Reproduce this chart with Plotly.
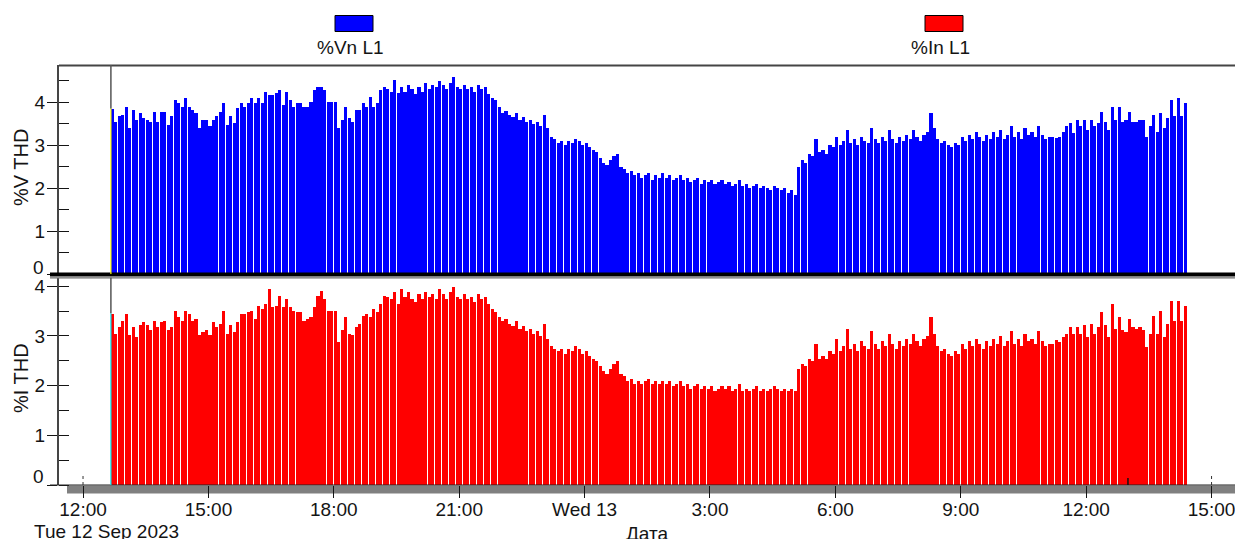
import pandas as pd
import plotly.graph_objects as go

# ---- data: %THD recorded every 5 minutes, Tue 12 Sep 2023 12:40 -> Wed 13 Sep 14:20
START = "2023-09-12 12:40"
STEP_MIN = 5

vthd_l1 = [
    3.85, 3.55, 3.67, 3.70, 3.90, 3.40, 3.82, 3.59, 3.74, 3.63,
    3.59, 3.55, 3.78, 3.55, 3.78, 3.78, 3.47, 3.67, 4.05, 3.98,
    3.90, 4.09, 3.90, 3.82, 3.74, 3.40, 3.59, 3.59, 3.44, 3.59,
    3.67, 3.78, 3.98, 3.47, 3.67, 3.51, 3.86, 3.98, 3.90, 3.98,
    4.09, 3.98, 4.09, 3.98, 4.25, 4.17, 4.17, 4.21, 4.29, 3.94,
    4.25, 4.05, 3.90, 3.98, 3.98, 3.90, 3.90, 4.01, 4.29, 4.36,
    4.36, 4.29, 4.01, 4.01, 4.01, 3.40, 3.59, 3.90, 3.63, 3.55,
    3.82, 3.82, 3.98, 3.90, 4.13, 3.90, 3.98, 4.29, 4.36, 4.32,
    4.25, 4.52, 4.21,
    4.35, 4.25, 4.40, 4.30, 4.20, 4.35,
    4.25, 4.45, 4.30, 4.40, 4.35, 4.50,
    4.40, 4.30, 4.45, 4.60, 4.35, 4.30,
    4.40, 4.30, 4.35, 4.25, 4.40, 4.30,
    4.35, 4.20, 4.10, 4.05, 3.90,
    3.75, 3.80, 3.70, 3.65, 3.75, 3.60,
    3.65, 3.55, 3.60, 3.50, 3.55, 3.45,
    3.70, 3.40,
    3.20, 3.15, 3.05, 3.10, 3.00, 3.10,
    3.05, 3.15, 3.10, 3.00, 3.05, 2.95,
    2.90, 2.85, 2.70, 2.60,
    2.55, 2.65, 2.75, 2.80,
    2.50, 2.45, 2.35, 2.40, 2.30, 2.35,
    2.25, 2.30, 2.35, 2.20, 2.30, 2.25,
    2.35, 2.25, 2.30, 2.20, 2.25, 2.30,
    2.20, 2.25, 2.15, 2.20, 2.25, 2.10,
    2.20, 2.15, 2.20, 2.10, 2.15, 2.20,
    2.10, 2.15, 2.05, 2.10, 2.20, 2.05,
    2.10, 2.00, 2.05, 2.10, 2.00, 2.05,
    2.00, 1.95, 2.05, 2.00, 1.95, 2.00,
    1.90, 1.95, 1.85,
    2.50, 2.65, 2.60, 2.80, 2.75, 3.15,
    2.85, 2.90, 2.80, 3.00, 2.95, 3.20,
    3.00, 3.10, 3.35, 3.05, 3.15, 3.00,
    3.20, 3.10, 3.05, 3.40, 3.15, 3.05,
    3.20, 3.10, 3.35, 3.15, 3.05, 3.20,
    3.10, 3.25, 3.15, 3.35, 3.20, 3.10,
    3.25, 3.30, 3.75, 3.40,
    3.15, 3.05, 3.10, 3.00, 2.95, 3.05,
    3.00, 3.20, 3.10, 3.25, 3.15, 3.30,
    3.20, 3.10, 3.25, 3.15, 3.30, 3.20,
    3.35, 3.15, 3.25, 3.45, 3.20, 3.30,
    3.15, 3.40, 3.25, 3.30, 3.20, 3.45,
    3.25, 3.15, 3.20,
    3.20, 3.16, 3.20, 3.32, 3.44, 3.51, 3.28, 3.59, 3.44, 3.59,
    3.36, 3.59, 3.44, 3.51, 3.78, 3.55, 3.36, 3.90, 3.59, 3.90,
    3.55, 3.59, 3.78, 3.55, 3.55, 3.59, 3.59, 3.20, 3.44, 3.71,
    3.32, 3.74, 3.40, 3.63, 4.05, 3.67, 4.09, 3.67, 3.98,
]

ithd_l1 = [
    3.45, 3.05, 3.19, 3.32, 3.45, 3.02, 3.19, 2.99, 3.22, 3.29,
    3.22, 3.12, 3.32, 3.19, 3.29, 3.32, 3.12, 3.19, 3.52, 3.39,
    3.32, 3.52, 3.45, 3.32, 3.35, 3.02, 3.09, 3.12, 3.02, 3.29,
    3.19, 3.25, 3.52, 3.05, 3.22, 3.09, 3.29, 3.45, 3.45, 3.49,
    3.52, 3.35, 3.62, 3.55, 3.65, 3.96, 3.59, 3.62, 3.82, 3.59,
    3.76, 3.59, 3.52, 3.49, 3.49, 3.32, 3.35, 3.39, 3.59, 3.82,
    3.92, 3.76, 3.52, 3.52, 3.52, 2.88, 3.12, 3.39, 3.05, 3.02,
    3.19, 3.25, 3.42, 3.45, 3.39, 3.55, 3.49, 3.65, 3.82, 3.79,
    3.76, 3.89, 3.65,
    3.95, 3.80, 3.90, 3.75, 3.70, 3.85,
    3.75, 3.90, 3.80, 3.85, 3.75, 3.95,
    3.85, 3.75, 3.90, 4.00, 3.80, 3.75,
    3.85, 3.75, 3.80, 3.70, 3.85, 3.75,
    3.80, 3.65, 3.55, 3.50, 3.40,
    3.30, 3.35, 3.25, 3.20, 3.30, 3.15,
    3.20, 3.10, 3.15, 3.05, 3.10, 3.00,
    3.25, 2.95,
    2.80, 2.75, 2.70, 2.75, 2.65, 2.75,
    2.70, 2.80, 2.75, 2.65, 2.70, 2.60,
    2.55, 2.50, 2.40, 2.30,
    2.25, 2.35, 2.45, 2.50,
    2.25, 2.20, 2.10, 2.15, 2.05, 2.10,
    2.05, 2.10, 2.15, 2.05, 2.10, 2.05,
    2.10, 2.05, 2.10, 2.00, 2.05, 2.10,
    2.00, 2.05, 1.95, 2.00, 2.05, 1.95,
    2.00, 1.95, 2.00, 1.90, 1.95, 2.00,
    1.95, 2.00, 1.90, 1.95, 2.05, 1.90,
    1.95, 1.90, 1.95, 2.00, 1.90, 1.95,
    1.90, 1.95, 2.00, 1.95, 1.90, 1.95,
    1.90, 1.95, 1.90,
    2.35, 2.45, 2.40, 2.55, 2.50, 2.85,
    2.55, 2.60, 2.55, 2.70, 2.65, 2.95,
    2.70, 2.80, 3.15, 2.75, 2.85, 2.70,
    2.90, 2.80, 2.75, 3.10, 2.85, 2.75,
    2.90, 2.80, 3.05, 2.85, 2.75, 2.90,
    2.80, 2.95, 2.85, 3.05, 2.90, 2.80,
    2.95, 3.00, 3.40, 3.05,
    2.80, 2.70, 2.75, 2.65, 2.60, 2.70,
    2.65, 2.85, 2.75, 2.90, 2.80, 2.95,
    2.85, 2.75, 2.90, 2.80, 2.95, 2.85,
    3.00, 2.80, 2.90, 3.10, 2.85, 2.95,
    2.80, 3.05, 2.90, 2.95, 2.85, 3.10,
    2.90, 2.80, 2.85,
    2.85, 2.92, 2.88, 2.99, 3.05, 3.19, 3.05, 3.19, 3.05, 3.22,
    2.99, 3.25, 3.05, 3.19, 3.49, 3.22, 2.99, 3.66, 3.15, 3.39,
    3.12, 3.09, 3.36, 3.19, 3.15, 3.19, 3.12, 2.79, 3.05, 3.42,
    3.05, 3.52, 2.99, 3.25, 3.72, 3.32, 3.72, 3.32, 3.62,
]

series_names = ["%Vn L1", "%In L1"]
axis_titles = ["%V THD", "%I THD"]

tick_times = [
    "2023-09-12 12:00", "2023-09-12 15:00", "2023-09-12 18:00", "2023-09-12 21:00",
    "2023-09-13 00:00", "2023-09-13 03:00", "2023-09-13 06:00", "2023-09-13 09:00",
    "2023-09-13 12:00", "2023-09-13 15:00",
]
tick_labels = ["12:00", "15:00", "18:00", "21:00", "Wed 13",
               "3:00", "6:00", "9:00", "12:00", "15:00"]
date_label = "Tue 12 Sep 2023"
x_title = "Дата"
x_range = ["2023-09-12 11:25:30", "2023-09-13 15:33:40"]
event_marks = ["2023-09-12 12:00", "2023-09-13 15:00"]
event_tick = "2023-09-13 13:00"

times = pd.date_range(START, periods=len(vthd_l1), freq=f"{STEP_MIN}min")

# ---- layout geometry (pixels)
W, H = 1235, 539
ML, MR, MT, MB = 59, 0, 65, 54
PW, PH = W - ML - MR, H - MT - MB


def fx(px):
    return (px - ML) / PW


def fy(py):
    return (H - MB - py) / PH


BLUE = "#0000FF"
RED = "#FF0000"
INK = "#141414"
FONT = "Liberation Sans, Arial, sans-serif"
FS = 19

bar_w = STEP_MIN * 60 * 1000 * 0.89

fig = go.Figure()
fig.add_trace(go.Bar(
    x=times, y=vthd_l1, name=series_names[0], xaxis="x", yaxis="y",
    width=bar_w, offset=0, marker=dict(color=BLUE, line=dict(width=0)),
))
fig.add_trace(go.Bar(
    x=times, y=ithd_l1, name=series_names[1], xaxis="x2", yaxis="y2",
    width=bar_w, offset=0, marker=dict(color=RED, line=dict(width=0)),
))

yaxis_common = dict(
    showgrid=False, zeroline=False, showline=True, linecolor="#454545", linewidth=2,
    ticks="outside", ticklen=10, tickwidth=1, tickcolor=INK,
    tickvals=[0, 1, 2, 3, 4], ticktext=["", "1", "2", "3", "4"],
    minor=dict(ticks="inside", ticklen=10, tickwidth=1, tickcolor=INK, dtick=0.5, tick0=0),
    tickfont=dict(family=FONT, size=FS, color=INK),
    ticklabelstandoff=-2,
    fixedrange=True,
)

fig.update_layout(
    width=W, height=H,
    margin=dict(l=ML, r=MR, t=MT, b=MB),
    paper_bgcolor="white", plot_bgcolor="white",
    showlegend=False, bargap=0, bargroupgap=0,
    font=dict(family=FONT, size=FS, color=INK),
    xaxis=dict(domain=[0, 1], anchor="y", range=x_range, type="date",
               showticklabels=False, ticks="", showgrid=False, zeroline=False,
               showline=False, matches="x2"),
    yaxis=dict(domain=[fy(274.3), 1], anchor="x", range=[0, (274.3 - 65) / 43.0],
               **yaxis_common),
    xaxis2=dict(domain=[0, 1], anchor="y2", range=x_range, type="date",
                tickvals=tick_times, ticktext=tick_labels,
                ticks="outside", ticklen=12, tickwidth=1, tickcolor=INK,
                tickfont=dict(family=FONT, size=FS, color=INK),
                ticklabelstandoff=-5, ticklabeloverflow="allow",
                showgrid=False, zeroline=False, showline=False),
    yaxis2=dict(domain=[0, fy(277.5)], anchor="x2", range=[0, (485 - 277.5) / 49.7],
                **yaxis_common),
)

shapes = []
# frame: top border
shapes.append(dict(type="line", xref="paper", yref="paper", x0=fx(59), x1=1,
                   y0=fy(65.5), y1=fy(65.5), line=dict(color="#454545", width=2),
                   layer="above"))
# heavy separator under the upper panel
shapes.append(dict(type="rect", xref="paper", yref="paper", x0=fx(50), x1=1,
                   y0=fy(276.6), y1=fy(272.4), fillcolor="black",
                   line=dict(width=0), layer="above"))
shapes.append(dict(type="line", xref="paper", yref="paper", x0=fx(50), x1=1,
                   y0=fy(277.8), y1=fy(277.8), line=dict(color="#6a6a6a", width=1.2),
                   layer="above"))
# bottom axis: dark line with grey band under it
shapes.append(dict(type="rect", xref="paper", yref="paper", x0=fx(67), x1=1,
                   y0=fy(493.5), y1=fy(485.5), fillcolor="#808080",
                   line=dict(width=0), layer="below"))
shapes.append(dict(type="line", xref="paper", yref="paper", x0=fx(50), x1=1,
                   y0=fy(485), y1=fy(485), line=dict(color="#222222", width=1.2),
                   layer="above"))
# cursor at the first record
shapes.append(dict(type="line", xref="x", yref="y", x0=times[0], x1=times[0],
                   y0=vthd_l1[0], y1=(274.3 - 65) / 43.0,
                   line=dict(color="#555555", width=1.5), layer="above"))
shapes.append(dict(type="line", xref="x2", yref="y2", x0=times[0], x1=times[0],
                   y0=ithd_l1[0], y1=(485 - 277.5) / 49.7,
                   line=dict(color="#555555", width=1.5), layer="above"))
shapes.append(dict(type="line", xref="x", yref="y", x0=times[0], x1=times[0],
                   y0=0, y1=vthd_l1[0], line=dict(color="#FFFF00", width=1.2),
                   layer="above"))
shapes.append(dict(type="line", xref="x2", yref="y2", x0=times[0], x1=times[0],
                   y0=0, y1=ithd_l1[0], line=dict(color="#00E5EE", width=1.2),
                   layer="above"))
# small event marks on the lower panel
for t in event_marks:
    shapes.append(dict(type="line", xref="x2", yref="paper", x0=t, x1=t,
                       y0=fy(485), y1=fy(473), line=dict(color="#333333", width=1,
                                                          dash="dot"), layer="above"))
shapes.append(dict(type="line", xref="x2", yref="paper", x0=event_tick, x1=event_tick,
                   y0=fy(485), y1=fy(478), line=dict(color="#111111", width=1.5),
                   layer="above"))
# legend swatches
for (x0, x1), col in [((335, 373), BLUE), ((925, 963), RED)]:
    shapes.append(dict(type="rect", xref="paper", yref="paper", x0=fx(x0), x1=fx(x1),
                       y0=fy(31.5), y1=fy(15.5), fillcolor=col,
                       line=dict(color="black", width=1), layer="above"))

annotations = []
for name, cx in zip(series_names, [350, 940]):
    annotations.append(dict(text=name, xref="paper", yref="paper", x=fx(cx), y=fy(48),
                            xanchor="center", yanchor="middle", showarrow=False,
                            font=dict(family=FONT, size=FS, color=INK)))
for title, cy in zip(axis_titles, [168, 378]):
    annotations.append(dict(text=title, xref="paper", yref="paper", x=fx(21), y=fy(cy),
                            xanchor="center", yanchor="middle", textangle=-90,
                            showarrow=False, font=dict(family=FONT, size=20, color=INK)))
# zero labels sit just above their axis lines
for cy in [267, 476.5]:
    annotations.append(dict(text="0", xref="paper", yref="paper", x=fx(46), y=fy(cy),
                            xanchor="right", yanchor="middle", showarrow=False,
                            font=dict(family=FONT, size=FS, color=INK)))
annotations.append(dict(text=date_label, xref="paper", yref="paper", x=fx(106), y=fy(531.5),
                        xanchor="center", yanchor="middle", showarrow=False,
                        font=dict(family=FONT, size=FS, color=INK)))
annotations.append(dict(text=x_title, xref="paper", yref="paper", x=fx(647), y=fy(533),
                        xanchor="center", yanchor="middle", showarrow=False,
                        font=dict(family=FONT, size=FS, color=INK)))

fig.update_layout(shapes=shapes, annotations=annotations)
fig.write_html("out.html")
